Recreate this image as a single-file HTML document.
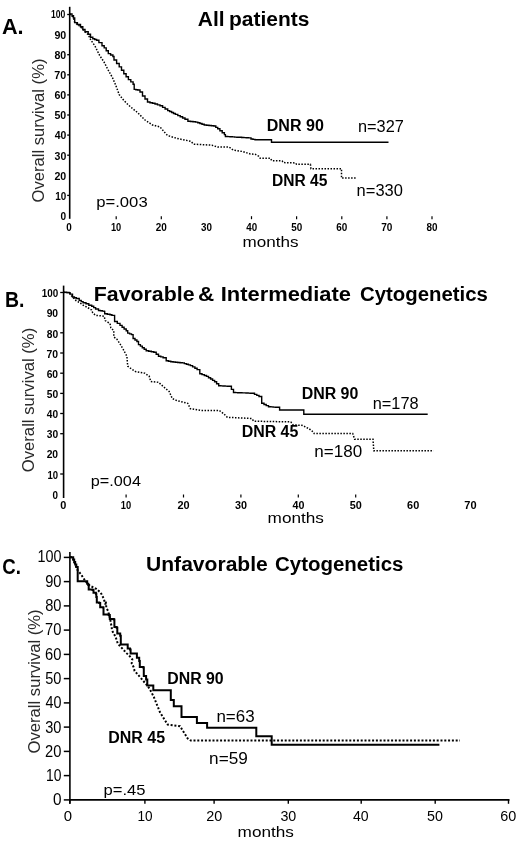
<!DOCTYPE html>
<html><head><meta charset="utf-8"><title>Survival curves</title>
<style>
html,body{margin:0;padding:0;background:#fff;}
body{width:520px;height:845px;overflow:hidden;}
svg{display:block;filter:grayscale(1);}
text{font-family:"Liberation Sans", sans-serif;fill:#000;}
</style></head><body>
<svg width="520" height="845" viewBox="0 0 520 845">
<rect width="520" height="845" fill="#fff"/>
<line x1="69.7" y1="6.8" x2="69.7" y2="218.8" stroke="#000" stroke-width="1.6"/>
<text x="60.60" y="220.05" font-size="11.8" font-weight="bold" textLength="5.62" lengthAdjust="spacingAndGlyphs">0</text>
<line x1="67.2" y1="195.4" x2="69.7" y2="195.4" stroke="#000" stroke-width="1.3"/>
<text x="55.26" y="199.89" font-size="11.8" font-weight="bold" textLength="10.96" lengthAdjust="spacingAndGlyphs">10</text>
<text x="54.43" y="179.73" font-size="11.8" font-weight="bold" textLength="11.82" lengthAdjust="spacingAndGlyphs">20</text>
<line x1="67.2" y1="155.2" x2="69.7" y2="155.2" stroke="#000" stroke-width="1.3"/>
<text x="54.54" y="159.57" font-size="11.8" font-weight="bold" textLength="11.71" lengthAdjust="spacingAndGlyphs">30</text>
<line x1="67.2" y1="135.1" x2="69.7" y2="135.1" stroke="#000" stroke-width="1.3"/>
<text x="54.64" y="139.41" font-size="11.8" font-weight="bold" textLength="11.60" lengthAdjust="spacingAndGlyphs">40</text>
<line x1="67.2" y1="115.0" x2="69.7" y2="115.0" stroke="#000" stroke-width="1.3"/>
<text x="54.48" y="119.25" font-size="11.8" font-weight="bold" textLength="11.77" lengthAdjust="spacingAndGlyphs">50</text>
<line x1="67.2" y1="94.9" x2="69.7" y2="94.9" stroke="#000" stroke-width="1.3"/>
<text x="54.43" y="99.09" font-size="11.8" font-weight="bold" textLength="11.82" lengthAdjust="spacingAndGlyphs">60</text>
<line x1="67.2" y1="74.8" x2="69.7" y2="74.8" stroke="#000" stroke-width="1.3"/>
<text x="54.32" y="78.93" font-size="11.8" font-weight="bold" textLength="11.94" lengthAdjust="spacingAndGlyphs">70</text>
<line x1="67.2" y1="54.7" x2="69.7" y2="54.7" stroke="#000" stroke-width="1.3"/>
<text x="54.48" y="58.77" font-size="11.8" font-weight="bold" textLength="11.77" lengthAdjust="spacingAndGlyphs">80</text>
<text x="54.43" y="38.61" font-size="11.8" font-weight="bold" textLength="11.82" lengthAdjust="spacingAndGlyphs">90</text>
<line x1="67.2" y1="14.5" x2="69.7" y2="14.5" stroke="#000" stroke-width="1.3"/>
<text x="50.94" y="18.45" font-size="11.8" font-weight="bold" textLength="14.33" lengthAdjust="spacingAndGlyphs">100</text>
<text x="66.15" y="230.8" font-size="11.1" font-weight="bold" textLength="5.50" lengthAdjust="spacingAndGlyphs">0</text>
<line x1="116.2" y1="216.2" x2="116.2" y2="219.2" stroke="#000" stroke-width="1.2"/>
<text x="110.96" y="230.8" font-size="11.1" font-weight="bold" textLength="10.29" lengthAdjust="spacingAndGlyphs">10</text>
<line x1="161.3" y1="216.2" x2="161.3" y2="219.2" stroke="#000" stroke-width="1.2"/>
<text x="155.82" y="230.8" font-size="11.1" font-weight="bold" textLength="11.07" lengthAdjust="spacingAndGlyphs">20</text>
<text x="201.03" y="230.8" font-size="11.1" font-weight="bold" textLength="10.96" lengthAdjust="spacingAndGlyphs">30</text>
<line x1="251.5" y1="216.2" x2="251.5" y2="219.2" stroke="#000" stroke-width="1.2"/>
<text x="246.24" y="230.8" font-size="11.1" font-weight="bold" textLength="10.86" lengthAdjust="spacingAndGlyphs">40</text>
<line x1="296.6" y1="216.2" x2="296.6" y2="219.2" stroke="#000" stroke-width="1.2"/>
<text x="291.20" y="230.8" font-size="11.1" font-weight="bold" textLength="11.02" lengthAdjust="spacingAndGlyphs">50</text>
<line x1="341.8" y1="216.2" x2="341.8" y2="219.2" stroke="#000" stroke-width="1.2"/>
<text x="336.26" y="230.8" font-size="11.1" font-weight="bold" textLength="11.07" lengthAdjust="spacingAndGlyphs">60</text>
<line x1="386.9" y1="216.2" x2="386.9" y2="219.2" stroke="#000" stroke-width="1.2"/>
<text x="381.27" y="230.8" font-size="11.1" font-weight="bold" textLength="11.18" lengthAdjust="spacingAndGlyphs">70</text>
<line x1="432.0" y1="216.2" x2="432.0" y2="219.2" stroke="#000" stroke-width="1.2"/>
<text x="426.53" y="230.8" font-size="11.1" font-weight="bold" textLength="11.02" lengthAdjust="spacingAndGlyphs">80</text>
<path d="M69.7,13.9 L72.0,13.9 L72.0,15.7 L73.5,15.7 L73.5,18.0 L74.7,18.0 L74.7,22.6 L77.4,22.6 L77.4,24.5 L80.5,24.5 L80.5,26.8 L82.8,26.8 L82.8,29.5 L85.0,29.5 L85.0,31.8 L88.2,31.8 L88.2,34.2 L90.5,34.2 L90.5,37.2 L92.8,37.2 L92.8,38.8 L94.7,38.8 L94.7,39.5 L96.6,39.5 L96.6,40.3 L98.9,40.3 L98.9,42.6 L102.0,42.6 L102.0,45.7 L104.2,45.7 L104.2,47.9 L106.2,47.9 L106.2,50.8 L108.3,50.8 L108.3,53.6 L110.6,53.6 L110.6,55.0 L112.9,55.0 L112.9,56.5 L114.0,56.5 L114.0,60.0 L116.6,60.0 L116.6,63.5 L119.2,63.5 L119.2,66.9 L121.5,66.9 L121.5,70.3 L123.8,70.3 L123.8,73.8 L126.1,73.8 L126.1,76.7 L128.4,76.7 L128.4,79.6 L130.8,79.6 L130.8,81.9 L133.1,81.9 L133.1,84.2 L134.2,84.2 L134.2,89.4 L135.9,89.4 L135.9,89.7 L137.7,89.7 L137.7,90.0 L140.0,90.0 L140.0,92.0 L142.5,92.0 L142.5,96.0 L145.0,96.0 L145.0,99.0 L147.5,99.0 L147.5,102.0 L150.0,102.0 L150.0,102.7 L152.5,102.7 L152.5,103.3 L155.0,103.3 L155.0,104.0 L157.5,104.0 L157.5,104.9 L160.0,104.9 L160.0,105.8 L162.6,105.8 L162.6,107.4 L165.1,107.4 L165.1,109.0 L167.7,109.0 L167.7,110.6 L169.6,110.6 L169.6,111.5 L171.6,111.5 L171.6,112.5 L173.5,112.5 L173.5,113.5 L175.4,113.5 L175.4,114.4 L177.8,114.4 L177.8,115.6 L180.2,115.6 L180.2,116.8 L182.6,116.8 L182.6,118.0 L185.0,118.0 L185.0,119.2 L187.9,119.2 L187.9,121.2 L190.5,121.2 L190.5,121.5 L193.0,121.5 L193.0,121.8 L195.6,121.8 L195.6,122.1 L197.8,122.1 L197.8,122.8 L199.9,122.8 L199.9,123.5 L202.0,123.5 L202.0,124.3 L204.2,124.3 L204.2,125.0 L206.6,125.0 L206.6,125.2 L209.0,125.2 L209.0,125.5 L211.4,125.5 L211.4,125.8 L213.8,125.8 L213.8,126.0 L215.8,126.0 L215.8,127.4 L217.7,127.4 L217.7,128.8 L219.9,128.8 L219.9,130.7 L222.2,130.7 L222.2,132.7 L224.4,132.7 L224.4,134.6 L225.4,134.6 L225.4,136.5 L227.7,136.5 L227.7,136.6 L230.0,136.6 L230.0,136.8 L232.3,136.8 L232.3,136.9 L234.6,136.9 L234.6,137.1 L236.9,137.1 L236.9,137.2 L239.3,137.2 L239.3,137.3 L241.6,137.3 L241.6,137.5 L243.9,137.5 L243.9,137.6 L246.2,137.6 L246.2,137.8 L248.5,137.8 L248.5,137.9 L251.0,137.9 L251.0,139.0 L253.0,139.0 L253.0,139.4 L255.0,139.4 L255.0,139.8 L270.8,139.8 L271.5,139.8 L271.5,142.2 L388.5,142.2" fill="none" stroke="#000" stroke-width="1.4"/>
<path d="M69.7,13.9 L72.0,15.7 L73.5,18.0 L74.7,22.6 L77.4,24.5 L80.5,26.8 L82.8,29.5 L85.0,31.8 L88.2,34.6 L90.5,39.5 L95.0,46.1 L99.6,55.4 L104.2,62.3 L107.7,69.2 L112.3,77.3 L115.8,85.4 L119.2,94.6 L123.8,100.4 L128.4,105.0 L133.1,109.0 L137.5,112.5 L145.0,120.0 L152.5,125.0 L160.0,126.9 L165.8,133.7 L167.7,135.6 L177.3,138.5 L190.8,141.3 L193.7,144.2 L211.9,145.2 L217.7,147.1 L229.2,147.1 L233.1,150.0 L242.7,151.5 L250.4,154.0 L255.0,154.2 L258.5,156.0 L260.2,158.3 L270.6,158.3 L271.7,160.6 L282.1,160.9 L283.3,162.6 L295.4,162.9 L296.5,164.3 L310.4,164.3 L311.0,168.7 L341.5,168.7 L341.5,178.1 L356.0,178.1" fill="none" stroke="#000" stroke-width="1.5" stroke-dasharray="1.5 1.5"/>
<line x1="63.6" y1="285.6" x2="63.6" y2="498" stroke="#000" stroke-width="1.6"/>
<text x="52.60" y="498.7" font-size="10.8" font-weight="bold" textLength="5.50" lengthAdjust="spacingAndGlyphs">0</text>
<line x1="60.2" y1="474.0" x2="63.6" y2="474.0" stroke="#000" stroke-width="1.3"/>
<text x="47.48" y="478.55" font-size="10.8" font-weight="bold" textLength="10.63" lengthAdjust="spacingAndGlyphs">10</text>
<text x="46.64" y="458.4" font-size="10.8" font-weight="bold" textLength="11.50" lengthAdjust="spacingAndGlyphs">20</text>
<line x1="60.2" y1="433.7" x2="63.6" y2="433.7" stroke="#000" stroke-width="1.3"/>
<text x="46.74" y="438.25" font-size="10.8" font-weight="bold" textLength="11.39" lengthAdjust="spacingAndGlyphs">30</text>
<line x1="60.2" y1="413.5" x2="63.6" y2="413.5" stroke="#000" stroke-width="1.3"/>
<text x="46.85" y="418.1" font-size="10.8" font-weight="bold" textLength="11.28" lengthAdjust="spacingAndGlyphs">40</text>
<line x1="60.2" y1="393.4" x2="63.6" y2="393.4" stroke="#000" stroke-width="1.3"/>
<text x="46.69" y="397.95" font-size="10.8" font-weight="bold" textLength="11.44" lengthAdjust="spacingAndGlyphs">50</text>
<line x1="60.2" y1="373.2" x2="63.6" y2="373.2" stroke="#000" stroke-width="1.3"/>
<text x="46.64" y="377.8" font-size="10.8" font-weight="bold" textLength="11.50" lengthAdjust="spacingAndGlyphs">60</text>
<line x1="60.2" y1="353.0" x2="63.6" y2="353.0" stroke="#000" stroke-width="1.3"/>
<text x="46.53" y="357.65" font-size="10.8" font-weight="bold" textLength="11.61" lengthAdjust="spacingAndGlyphs">70</text>
<line x1="60.2" y1="332.8" x2="63.6" y2="332.8" stroke="#000" stroke-width="1.3"/>
<text x="46.69" y="337.5" font-size="10.8" font-weight="bold" textLength="11.44" lengthAdjust="spacingAndGlyphs">80</text>
<text x="46.64" y="317.35" font-size="10.8" font-weight="bold" textLength="11.50" lengthAdjust="spacingAndGlyphs">90</text>
<line x1="60.2" y1="292.5" x2="63.6" y2="292.5" stroke="#000" stroke-width="1.3"/>
<text x="41.66" y="297.2" font-size="10.8" font-weight="bold" textLength="16.47" lengthAdjust="spacingAndGlyphs">100</text>
<text x="60.26" y="509.3" font-size="11.2" font-weight="bold" textLength="6.09" lengthAdjust="spacingAndGlyphs">0</text>
<line x1="126.1" y1="494.5" x2="126.1" y2="497.5" stroke="#000" stroke-width="1.2"/>
<text x="120.79" y="509.3" font-size="11.2" font-weight="bold" textLength="10.40" lengthAdjust="spacingAndGlyphs">10</text>
<line x1="183.5" y1="494.5" x2="183.5" y2="497.5" stroke="#000" stroke-width="1.2"/>
<text x="177.47" y="509.3" font-size="11.2" font-weight="bold" textLength="12.14" lengthAdjust="spacingAndGlyphs">20</text>
<line x1="240.9" y1="494.5" x2="240.9" y2="497.5" stroke="#000" stroke-width="1.2"/>
<text x="234.98" y="509.3" font-size="11.2" font-weight="bold" textLength="12.03" lengthAdjust="spacingAndGlyphs">30</text>
<line x1="298.3" y1="494.5" x2="298.3" y2="497.5" stroke="#000" stroke-width="1.2"/>
<text x="292.49" y="509.3" font-size="11.2" font-weight="bold" textLength="11.91" lengthAdjust="spacingAndGlyphs">40</text>
<line x1="355.7" y1="494.5" x2="355.7" y2="497.5" stroke="#000" stroke-width="1.2"/>
<text x="349.72" y="509.3" font-size="11.2" font-weight="bold" textLength="12.09" lengthAdjust="spacingAndGlyphs">50</text>
<text x="407.07" y="509.3" font-size="11.2" font-weight="bold" textLength="12.14" lengthAdjust="spacingAndGlyphs">60</text>
<text x="464.35" y="509.3" font-size="11.2" font-weight="bold" textLength="12.26" lengthAdjust="spacingAndGlyphs">70</text>
<path d="M63.6,292.3 L66.3,292.3 L66.3,292.5 L69.1,292.5 L69.1,292.7 L70.1,292.7 L70.1,294.1 L72.5,294.1 L72.5,297.0 L74.4,297.0 L74.4,297.8 L76.3,297.8 L76.3,298.5 L79.2,298.5 L79.2,300.4 L81.2,300.4 L81.2,301.6 L83.1,301.6 L83.1,302.8 L86.0,302.8 L86.0,303.8 L88.8,303.8 L88.8,305.2 L91.7,305.2 L91.7,306.2 L93.7,306.2 L93.7,307.6 L95.6,307.6 L95.6,309.0 L98.5,309.0 L98.5,310.5 L100.4,310.5 L100.4,310.8 L102.3,310.8 L102.3,311.1 L104.2,311.1 L104.2,311.4 L104.7,311.4 L104.7,313.8 L107.3,313.8 L107.3,314.3 L110.0,314.3 L110.0,314.8 L111.9,314.8 L111.9,315.4 L114.6,315.4 L114.6,321.5 L117.3,321.5 L117.3,323.4 L120.0,323.4 L120.0,325.4 L122.1,325.4 L122.1,327.2 L124.1,327.2 L124.1,329.0 L126.2,329.0 L126.2,330.8 L127.7,330.8 L127.7,333.1 L129.6,333.1 L129.6,333.9 L131.5,333.9 L131.5,334.6 L133.1,334.6 L133.1,338.5 L135.0,338.5 L135.0,340.0 L136.9,340.0 L136.9,341.5 L138.5,341.5 L138.5,344.6 L140.4,344.6 L140.4,346.1 L142.3,346.1 L142.3,347.7 L144.2,347.7 L144.2,349.2 L146.2,349.2 L146.2,350.8 L148.7,350.8 L148.7,351.3 L151.3,351.3 L151.3,351.8 L153.8,351.8 L153.8,352.3 L156.2,352.3 L156.2,354.2 L158.5,354.2 L158.5,356.2 L160.8,356.2 L160.8,356.9 L163.1,356.9 L163.1,357.7 L166.2,357.7 L166.2,360.8 L168.5,360.8 L168.5,361.3 L170.8,361.3 L170.8,361.8 L173.1,361.8 L173.1,362.0 L175.4,362.0 L175.4,362.2 L177.7,362.2 L177.7,362.5 L180.0,362.5 L180.0,362.7 L182.3,362.7 L182.3,362.9 L184.3,362.9 L184.3,363.6 L186.4,363.6 L186.4,364.2 L188.4,364.2 L188.4,364.9 L190.4,364.9 L190.4,365.6 L192.6,365.6 L192.6,366.9 L194.9,366.9 L194.9,368.3 L197.1,368.3 L197.1,369.6 L199.8,369.6 L199.8,373.7 L202.0,373.7 L202.0,374.6 L204.3,374.6 L204.3,375.5 L206.5,375.5 L206.5,376.4 L208.5,376.4 L208.5,377.7 L210.6,377.7 L210.6,379.0 L212.6,379.0 L212.6,380.4 L214.6,380.4 L214.6,381.7 L216.6,381.7 L216.6,383.8 L218.7,383.8 L218.7,385.8 L220.8,385.8 L220.8,385.9 L223.0,385.9 L223.0,386.0 L225.1,386.0 L225.1,386.1 L227.3,386.1 L227.3,386.2 L229.4,386.2 L229.4,386.3 L231.4,386.3 L231.4,389.4 L233.5,389.4 L233.5,392.5 L235.6,392.5 L235.6,392.6 L237.7,392.6 L237.7,392.7 L239.8,392.7 L239.8,392.8 L241.9,392.8 L241.9,392.9 L243.9,392.9 L243.9,392.9 L246.0,392.9 L246.0,393.0 L248.1,393.0 L248.1,393.1 L250.2,393.1 L250.2,393.2 L252.3,393.2 L252.3,393.3 L254.5,393.3 L254.5,394.4 L256.8,394.4 L256.8,395.4 L259.0,395.4 L259.0,396.5 L261.7,396.5 L261.7,403.3 L264.0,403.3 L264.0,404.5 L266.2,404.5 L266.2,405.6 L268.5,405.6 L268.5,406.8 L270.8,406.8 L270.8,406.9 L273.1,406.9 L273.1,407.1 L275.4,407.1 L275.4,407.2 L277.7,407.2 L277.7,407.3 L279.6,407.3 L279.6,410.0 L302.7,410.0 L303.8,410.0 L303.8,414.2 L427.7,414.2" fill="none" stroke="#000" stroke-width="1.4"/>
<path d="M63.6,292.3 L69.1,292.7 L70.1,294.1 L72.5,297.0 L76.3,300.9 L79.2,302.3 L83.1,305.2 L86.9,307.1 L91.7,310.0 L92.7,312.9 L95.6,315.3 L100.4,315.8 L104.2,316.3 L105.2,320.6 L110.0,323.5 L110.8,327.7 L113.8,330.8 L113.8,336.9 L116.9,339.2 L120.0,343.8 L123.1,349.2 L126.9,356.2 L127.7,366.2 L130.8,368.5 L135.4,371.5 L144.6,373.1 L149.2,376.2 L150.8,381.5 L158.5,382.3 L164.6,387.7 L169.2,391.5 L172.3,398.5 L176.9,400.6 L187.7,403.3 L190.4,408.7 L201.2,410.4 L219.2,410.4 L223.9,413.9 L227.3,417.3 L251.6,418.5 L253.9,421.2 L290.8,421.9 L293.1,424.9 L302.4,425.4 L309.3,428.9 L313.9,432.5 L314.2,433.5 L352.7,433.5 L354.6,439.2 L373.0,439.2 L373.8,450.8 L433.5,450.8" fill="none" stroke="#000" stroke-width="1.5" stroke-dasharray="1.5 1.5"/>
<line x1="69.9" y1="551.9" x2="69.9" y2="803.8" stroke="#000" stroke-width="1.6"/>
<line x1="69.9" y1="799.9" x2="509.5" y2="799.9" stroke="#000" stroke-width="1.6"/>
<line x1="63.8" y1="799.9" x2="69.9" y2="799.9" stroke="#000" stroke-width="1.5"/>
<text x="52.89" y="805.4" font-size="15.7" font-weight="normal" textLength="8.55" lengthAdjust="spacingAndGlyphs">0</text>
<line x1="63.8" y1="775.6" x2="69.9" y2="775.6" stroke="#000" stroke-width="1.5"/>
<text x="45.96" y="781.1" font-size="15.7" font-weight="normal" textLength="15.43" lengthAdjust="spacingAndGlyphs">10</text>
<line x1="63.8" y1="751.4" x2="69.9" y2="751.4" stroke="#000" stroke-width="1.5"/>
<text x="45.06" y="756.8" font-size="15.7" font-weight="normal" textLength="16.36" lengthAdjust="spacingAndGlyphs">20</text>
<line x1="63.8" y1="727.1" x2="69.9" y2="727.1" stroke="#000" stroke-width="1.5"/>
<text x="45.22" y="732.5" font-size="15.7" font-weight="normal" textLength="16.20" lengthAdjust="spacingAndGlyphs">30</text>
<line x1="63.8" y1="702.9" x2="69.9" y2="702.9" stroke="#000" stroke-width="1.5"/>
<text x="45.44" y="708.2" font-size="15.7" font-weight="normal" textLength="15.97" lengthAdjust="spacingAndGlyphs">40</text>
<line x1="63.8" y1="678.6" x2="69.9" y2="678.6" stroke="#000" stroke-width="1.5"/>
<text x="45.22" y="683.9" font-size="15.7" font-weight="normal" textLength="16.20" lengthAdjust="spacingAndGlyphs">50</text>
<line x1="63.8" y1="654.4" x2="69.9" y2="654.4" stroke="#000" stroke-width="1.5"/>
<text x="45.06" y="659.6" font-size="15.7" font-weight="normal" textLength="16.36" lengthAdjust="spacingAndGlyphs">60</text>
<line x1="63.8" y1="630.1" x2="69.9" y2="630.1" stroke="#000" stroke-width="1.5"/>
<text x="45.06" y="635.3" font-size="15.7" font-weight="normal" textLength="16.36" lengthAdjust="spacingAndGlyphs">70</text>
<line x1="63.8" y1="605.9" x2="69.9" y2="605.9" stroke="#000" stroke-width="1.5"/>
<text x="45.14" y="611.0" font-size="15.7" font-weight="normal" textLength="16.28" lengthAdjust="spacingAndGlyphs">80</text>
<line x1="63.8" y1="581.6" x2="69.9" y2="581.6" stroke="#000" stroke-width="1.5"/>
<text x="45.14" y="586.7" font-size="15.7" font-weight="normal" textLength="16.28" lengthAdjust="spacingAndGlyphs">90</text>
<line x1="63.8" y1="557.4" x2="69.9" y2="557.4" stroke="#000" stroke-width="1.5"/>
<text x="37.42" y="562.4" font-size="15.7" font-weight="normal" textLength="24.01" lengthAdjust="spacingAndGlyphs">100</text>
<line x1="69.8" y1="799.9" x2="69.8" y2="803.8" stroke="#000" stroke-width="1.4"/>
<text x="63.65" y="820.6" font-size="15.1" font-weight="normal" textLength="8.31" lengthAdjust="spacingAndGlyphs">0</text>
<line x1="144.9" y1="799.9" x2="144.9" y2="803.8" stroke="#000" stroke-width="1.4"/>
<text x="137.53" y="820.6" font-size="15.1" font-weight="normal" textLength="15.09" lengthAdjust="spacingAndGlyphs">10</text>
<line x1="214.1" y1="799.9" x2="214.1" y2="803.8" stroke="#000" stroke-width="1.4"/>
<text x="206.23" y="820.6" font-size="15.1" font-weight="normal" textLength="16.03" lengthAdjust="spacingAndGlyphs">20</text>
<line x1="288.3" y1="799.9" x2="288.3" y2="803.8" stroke="#000" stroke-width="1.4"/>
<text x="280.38" y="820.6" font-size="15.1" font-weight="normal" textLength="15.88" lengthAdjust="spacingAndGlyphs">30</text>
<line x1="361.2" y1="799.9" x2="361.2" y2="803.8" stroke="#000" stroke-width="1.4"/>
<text x="352.90" y="820.6" font-size="15.1" font-weight="normal" textLength="15.65" lengthAdjust="spacingAndGlyphs">40</text>
<line x1="435.2" y1="799.9" x2="435.2" y2="803.8" stroke="#000" stroke-width="1.4"/>
<text x="427.08" y="820.6" font-size="15.1" font-weight="normal" textLength="15.88" lengthAdjust="spacingAndGlyphs">50</text>
<line x1="508.5" y1="799.9" x2="508.5" y2="803.8" stroke="#000" stroke-width="1.4"/>
<text x="500.13" y="820.6" font-size="15.1" font-weight="normal" textLength="16.03" lengthAdjust="spacingAndGlyphs">60</text>
<path d="M70.0,557.2 L72.3,557.2 L73.2,557.2 L73.2,559.5 L74.2,559.5 L74.2,562.0 L75.2,562.0 L75.2,564.5 L76.3,564.5 L76.3,567.0 L77.7,567.0 L77.7,570.4 L77.7,581.3 L84.8,581.3 L87.2,581.3 L87.2,583.7 L88.2,583.7 L88.2,585.1 L88.7,585.1 L88.7,589.4 L92.5,589.4 L92.5,589.9 L93.5,589.9 L93.5,592.8 L95.9,592.8 L95.9,593.8 L96.3,593.8 L96.3,597.1 L96.8,597.1 L96.8,602.4 L99.2,602.4 L99.2,602.9 L100.2,602.9 L100.2,607.2 L103.1,607.2 L103.1,607.5 L103.5,607.5 L103.5,614.4 L108.7,614.4 L108.7,615.0 L109.8,615.0 L109.8,619.0 L113.8,619.0 L113.8,619.6 L114.4,619.6 L114.4,627.1 L116.7,627.1 L116.7,627.7 L117.3,627.7 L117.3,633.4 L120.2,633.4 L120.2,635.8 L120.8,635.8 L120.8,644.4 L127.1,644.4 L127.7,644.4 L127.7,648.4 L130.0,648.4 L130.0,649.6 L130.6,649.6 L130.6,653.6 L136.3,653.6 L136.9,653.6 L136.9,657.7 L139.2,657.7 L139.2,661.1 L139.8,661.1 L139.8,666.9 L143.3,666.9 L143.3,667.5 L143.8,667.5 L143.8,676.1 L146.1,676.1 L146.1,679.6 L147.3,679.6 L147.3,685.4 L153.1,685.4 L153.3,685.4 L153.3,690.2 L170.2,690.2 L170.8,690.2 L170.8,700.0 L173.8,700.0 L173.8,706.2 L180.0,706.2 L181.5,706.2 L181.5,716.9 L195.4,716.9 L196.9,716.9 L196.9,723.1 L206.2,723.1 L207.1,723.1 L207.1,727.7 L255.4,727.7 L256.3,727.7 L256.3,736.3 L270.8,736.3 L271.7,736.3 L271.7,744.8 L439.4,744.8" fill="none" stroke="#000" stroke-width="2"/>
<path d="M70.0,557.2 L72.3,557.2 L73.2,559.5 L74.2,562.0 L75.2,564.5 L76.3,567.0 L77.7,570.4 L79.5,572.5 L81.6,575.2 L83.3,577.9 L84.8,580.2 L87.3,583.3 L90.0,585.8 L96.2,588.8 L100.8,592.7 L103.8,598.8 L105.4,604.5 L105.8,601.7 L106.3,607.5 L108.1,611.0 L110.4,620.2 L111.5,626.5 L112.1,630.6 L115.6,636.9 L116.7,640.4 L117.9,643.8 L126.5,653.1 L130.0,656.5 L132.3,659.4 L131.7,663.4 L133.5,666.9 L134.6,670.9 L139.2,676.1 L146.1,684.2 L149.6,688.8 L153.8,696.9 L160.0,712.3 L167.7,724.6 L180.0,726.2 L187.7,738.5 L190.8,740.6 L460.0,740.6" fill="none" stroke="#000" stroke-width="2" stroke-dasharray="2 1.8"/>
<text x="1.96" y="34.2" font-size="21.5" font-weight="bold" textLength="21.66" lengthAdjust="spacingAndGlyphs">A.</text>
<text x="197.78" y="25.7" font-size="20.3" font-weight="bold" textLength="26.75" lengthAdjust="spacingAndGlyphs">All</text>
<text x="229.04" y="25.7" font-size="20.3" font-weight="bold" textLength="80.38" lengthAdjust="spacingAndGlyphs">patients</text>
<text x="242.59" y="246.6" font-size="15" font-weight="normal" textLength="56.00" lengthAdjust="spacingAndGlyphs">months</text>
<text x="96.22" y="206.5" font-size="14.5" font-weight="normal" textLength="51.46" lengthAdjust="spacingAndGlyphs">p=.003</text>
<text x="266.76" y="130.8" font-size="15.8" font-weight="bold" textLength="57.11" lengthAdjust="spacingAndGlyphs">DNR 90</text>
<text x="357.94" y="132.3" font-size="15.7" font-weight="normal" textLength="45.86" lengthAdjust="spacingAndGlyphs">n=327</text>
<text x="271.99" y="186.2" font-size="15.8" font-weight="bold" textLength="55.43" lengthAdjust="spacingAndGlyphs">DNR 45</text>
<text x="356.63" y="196" font-size="15.7" font-weight="normal" textLength="46.31" lengthAdjust="spacingAndGlyphs">n=330</text>
<text transform="translate(43.6,202.45) rotate(-90)" x="0" y="0" font-size="16.8" textLength="143.90" lengthAdjust="spacingAndGlyphs" style="fill:#2a2a2a">Overall survival (%)</text>
<text x="4.94" y="306.9" font-size="21.5" font-weight="bold" textLength="19.42" lengthAdjust="spacingAndGlyphs">B.</text>
<text x="93.81" y="301.2" font-size="20.3" font-weight="bold" textLength="100.72" lengthAdjust="spacingAndGlyphs">Favorable</text>
<text x="197.99" y="301.2" font-size="20.3" font-weight="bold" textLength="16.24" lengthAdjust="spacingAndGlyphs">&amp;</text>
<text x="220.68" y="301.2" font-size="20.3" font-weight="bold" textLength="130.32" lengthAdjust="spacingAndGlyphs">Intermediate</text>
<text x="359.99" y="301.2" font-size="20.3" font-weight="bold" textLength="127.82" lengthAdjust="spacingAndGlyphs">Cytogenetics</text>
<text x="267.58" y="522.6" font-size="15" font-weight="normal" textLength="56.31" lengthAdjust="spacingAndGlyphs">months</text>
<text x="90.85" y="485.8" font-size="14.5" font-weight="normal" textLength="50.07" lengthAdjust="spacingAndGlyphs">p=.004</text>
<text x="301.66" y="398.8" font-size="15.8" font-weight="bold" textLength="56.70" lengthAdjust="spacingAndGlyphs">DNR 90</text>
<text x="372.74" y="408.9" font-size="15.7" font-weight="normal" textLength="45.89" lengthAdjust="spacingAndGlyphs">n=178</text>
<text x="241.66" y="437.3" font-size="15.8" font-weight="bold" textLength="56.66" lengthAdjust="spacingAndGlyphs">DNR 45</text>
<text x="314.29" y="456.9" font-size="15.7" font-weight="normal" textLength="47.87" lengthAdjust="spacingAndGlyphs">n=180</text>
<text transform="translate(34.0,472.25) rotate(-90)" x="0" y="0" font-size="16.8" textLength="144.50" lengthAdjust="spacingAndGlyphs" style="fill:#2a2a2a">Overall survival (%)</text>
<text x="2.25" y="574.2" font-size="21.5" font-weight="bold" textLength="18.65" lengthAdjust="spacingAndGlyphs">C.</text>
<text x="146.04" y="570.8" font-size="20.3" font-weight="bold" textLength="121.79" lengthAdjust="spacingAndGlyphs">Unfavorable</text>
<text x="274.98" y="570.8" font-size="20.3" font-weight="bold" textLength="128.53" lengthAdjust="spacingAndGlyphs">Cytogenetics</text>
<text x="237.58" y="837" font-size="15" font-weight="normal" textLength="56.31" lengthAdjust="spacingAndGlyphs">months</text>
<text x="103.62" y="794.5" font-size="14.5" font-weight="normal" textLength="41.95" lengthAdjust="spacingAndGlyphs">p=.45</text>
<text x="167.27" y="684" font-size="15.8" font-weight="bold" textLength="56.39" lengthAdjust="spacingAndGlyphs">DNR 90</text>
<text x="216.40" y="721.5" font-size="15.7" font-weight="normal" textLength="38.21" lengthAdjust="spacingAndGlyphs">n=63</text>
<text x="108.16" y="743.1" font-size="15.8" font-weight="bold" textLength="56.87" lengthAdjust="spacingAndGlyphs">DNR 45</text>
<text x="209.08" y="764" font-size="15.7" font-weight="normal" textLength="38.73" lengthAdjust="spacingAndGlyphs">n=59</text>
<text transform="translate(40.2,753.45) rotate(-90)" x="0" y="0" font-size="16.8" textLength="144.10" lengthAdjust="spacingAndGlyphs" style="fill:#2a2a2a">Overall survival (%)</text>
</svg>
</body></html>
